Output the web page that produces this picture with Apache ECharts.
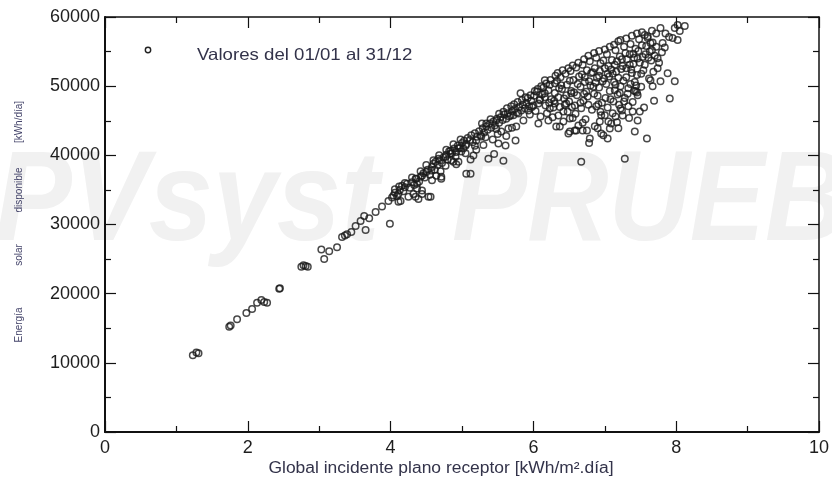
<!DOCTYPE html>
<html>
<head>
<meta charset="utf-8">
<script src="https://cdn.jsdelivr.net/npm/echarts@6/dist/echarts.min.js"></script>
<style>html,body{margin:0;padding:0;background:#fff}#c{width:832px;height:487px}</style>
</head>
<body>
<div id="c"></div>
<script>
// Axis ticks
const xTicks = [0, 2, 4, 6, 8, 10];
const yTicks = [0, 10000, 20000, 30000, 40000, 50000, 60000];

// Daily values [global incident kWh/m2.day, available solar energy kWh/day]
const lowDays = [
  [1.23,11100],[1.28,11500],[1.31,11400],[1.74,15200],[1.76,15400],[1.85,16300],[1.98,17200],
  [2.06,17800],[2.13,18700],[2.19,19100],[2.23,18800],[2.27,18700],[2.44,20700],[2.45,20800],
  [2.75,23900],[2.78,24100],[2.81,24000],[2.84,23900],[3.03,26400],[3.07,25000],[3.14,26150],
  [3.25,26700],[3.32,28200],[3.39,28600],[3.51,29800],[3.65,29200],[3.63,31240],[3.70,30900],
  [3.79,31800],[3.88,32600],[3.97,33400],[3.99,30100],[3.36,28400],[3.45,28900],[3.58,30500]
];
const midDays = [
  [4.04,34200],[4.11,33300],[4.16,35600],[4.25,34000],[4.35,34000],[4.37,35200],[4.44,34400],
  [4.56,34000],[4.35,36600],[4.71,36600],[4.14,33400],[4.11,34400],[4.32,34400],[4.39,33700],
  [4.53,34000],[4.44,34900],[4.37,35900],[4.44,37050],[4.50,37600],[4.57,37800],[4.64,37050],
  [4.71,36900],[4.63,39080],[4.67,39500],[4.77,38500],[4.77,39800],[4.84,40250],[4.88,39080],
  [4.95,39080],[4.99,40540],[5.06,37340],[5.05,41400],[4.95,40970],[4.84,40680],[4.91,39810],
  [5.02,40970],[5.12,37340],[5.16,39960],[5.20,42130],[5.27,42720],[5.37,39520],[5.34,44600],
  [5.48,45040],[5.51,41700],[5.58,39230],[5.61,41410],[5.55,43440],[5.65,43880],[5.75,42130],
  [5.76,44170],[5.68,45770],[5.79,46060],[5.82,48960],[5.86,45040],[5.93,46500],[6.00,47220],
  [6.07,44600],[6.09,47950],[6.16,48960],[6.21,45040],[6.23,46780],[6.30,47510],[6.32,44170],
  [6.35,45770],[6.42,46350],[6.46,47510],[6.49,43150],[6.58,43590],[6.39,50120],[6.53,48960],
  [6.16,50850],[6.30,50410]
];
const bandDays = [
  [4.02,33900],[4.06,34600],[4.09,34100],[4.13,35000],[4.18,34800],[4.20,35400],[4.23,35900],
  [4.27,35300],[4.30,36100],[4.33,35700],[4.36,36600],[4.40,36200],[4.42,36900],[4.46,37400],
  [4.48,36800],[4.52,37900],[4.55,37200],[4.58,38300],[4.60,38800],[4.62,37900],[4.66,38600],
  [4.69,39300],[4.72,38900],[4.74,39700],[4.78,40100],[4.80,39400],[4.82,40600],[4.86,40300],
  [4.89,41000],[4.92,40500],[4.94,41400],[4.97,41100],[5.00,41800],[5.03,42100],[5.06,41600],
  [5.08,42500],[5.11,42200],[5.13,42900],[5.15,41900],[5.18,43200],[5.21,42700],[5.24,43500],
  [5.26,42900],[5.29,43900],[5.31,43300],[5.34,44200],[5.36,43700],[5.39,44600],[5.41,44000],
  [5.44,44900],[5.46,44300],[5.49,45300],[5.52,44700],[5.54,45500],[5.57,45100],[5.59,45900],
  [5.62,45300],[5.64,46100],[5.66,45600],[5.70,46400],[5.72,45800],[5.74,46700],[5.77,46200],
  [5.80,47000],[5.83,46500],[5.85,47300],[5.88,46800],[5.90,47600],[5.94,47100],[5.97,47900],
  [5.20,40800],[5.30,41500],[5.43,42300],[5.50,43100],[5.62,42800],[5.70,44000],[5.45,40200],
  [5.12,39400],[5.05,40300],[4.92,38700],[4.85,39300],[4.70,37700],[4.58,36400],
  [5.18,41400],[5.33,42600],[5.48,43800],[5.28,44600],[5.40,45200],[4.98,42300],[4.88,41600],
  [4.78,40800],[4.68,40000],[4.60,39300],[4.50,38600],[4.42,37700],[4.30,36800],[4.20,36000],
  [4.12,35500],[4.06,35100]
];
const highDays = [
  [5.92,48300],[5.95,45900],[5.98,47000],[6.01,48600],[6.03,46400],[6.05,49200],[6.07,47500],
  [6.10,45600],[6.12,48800],[6.14,49800],[6.17,47200],[6.19,46100],[6.21,49400],[6.23,50200],
  [6.25,48100],[6.27,45500],[6.28,46900],[6.30,49000],[6.33,50800],[6.35,48400],[6.37,47000],
  [6.38,51300],[6.40,49600],[6.42,44900],[6.43,48200],[6.45,51800],[6.47,50200],[6.48,46300],
  [6.50,47800],[6.52,52200],[6.53,49300],[6.55,45400],[6.56,50900],[6.58,47200],[6.60,52700],
  [6.61,48700],[6.63,44300],[6.64,51400],[6.66,49900],[6.67,46800],[6.69,53100],[6.70,47900],
  [6.72,50600],[6.73,45200],[6.75,52300],[6.76,48500],[6.78,41800],[6.79,53600],[6.80,50100],
  [6.82,46600],[6.83,52000],[6.85,48900],[6.86,44200],[6.88,54100],[6.89,51200],[6.91,47400],
  [6.92,49800],[6.94,53300],[6.95,45800],[6.97,50700],[6.98,42900],[7.00,52600],[7.01,48300],
  [7.03,54600],[7.04,46900],[7.06,51400],[7.07,49300],[7.09,44600],[7.10,53800],[7.12,47800],
  [7.13,50600],[7.15,55200],[7.16,52100],[7.18,48800],[7.19,43900],[7.21,54300],[7.22,50000],
  [7.24,46500],[7.25,52900],[7.27,55700],[7.28,48300],[7.30,51300],[7.31,53900],[7.33,49700],
  [7.34,45400],[7.36,56100],[7.37,52400],[7.39,47700],[7.40,54700],[7.42,50600],[7.43,55400],
  [7.45,51600],[7.46,48700],[7.48,56800],[7.49,53400],[7.51,49900],[7.52,55900],[7.54,52300],
  [7.55,46900],[7.57,54600],[7.60,57200],[7.62,51100],[7.63,55000],[7.65,53700],[7.67,56300],
  [7.69,47900],[7.70,54400],[7.72,57600],[7.74,52600],
  [6.62,50300],[6.68,51700],[6.74,49200],[6.81,51900],[6.87,50500],[6.93,52200],[6.99,51100],
  [7.05,52900],[7.11,51800],[7.17,53600],[7.23,52500],[7.29,54800],[7.35,53100],[7.41,54100],
  [7.47,55100],[7.53,54200],[7.58,55800],[6.71,48900],[6.77,47300],[6.84,49900],[6.90,48600],
  [6.96,47600],[7.02,50300],[7.08,48100],[7.14,49400],[7.20,47300],[7.26,50800],[7.32,48900],
  [7.38,51900],[7.44,50100],[6.46,48700],[6.51,50800],[6.57,49100],[6.44,47300],[6.36,49700],
  [6.29,47900],[6.22,47600],[6.16,48400],[6.09,48100]
];
const topDays = [
  [5.52,46000],[5.58,46300],[5.63,46800],[5.69,47100],[5.73,47400],[5.78,47700],[5.84,48000],
  [5.89,48400],[5.96,48700],[6.02,49300],[6.06,49600],[6.11,50000],[6.18,50400],[6.24,50900],
  [6.31,51500],[6.34,51900],[6.41,52300],[6.49,52600],[6.55,53000],[6.63,53400],[6.71,53900],
  [6.77,54400],[6.85,54800],[6.92,55100],[7.00,55300],[7.07,55700],[7.13,56000],[7.19,56500],
  [7.30,56900],[7.38,57300],[7.45,57600],[7.52,57800],[7.66,58000],[7.85,57600],[7.90,57100],
  [6.72,51300],[6.78,50700],[6.86,52600],[6.92,51500],[6.98,53700],[7.04,51800],[7.09,52400],
  [7.14,53100],[7.19,51200],[7.24,53900],[7.30,52600],[7.35,54600],[7.40,53200],[7.46,54000],
  [7.51,51800],[7.56,53100],[7.61,54100],[7.66,55200],[7.68,52100],[7.72,55700],[7.76,53400],
  [7.80,54900],[7.84,55600],[7.15,50200],[7.21,49000],[7.27,47800],[7.33,47100],[7.36,50300],
  [6.88,47100],[6.94,46300],[7.00,45800],[7.05,44900],[7.11,46100],[6.66,47600],[6.59,46000],
  [6.54,47000],[6.69,44700],[6.75,43600],[6.90,43900],[7.17,44800]
];
const edgeDays = [
  [6.67,39080],[7.28,39520],[7.59,42420],[7.42,43440],[7.91,48230],[7.88,51870],[7.98,50700],
  [7.78,50700],[7.64,50850],[7.67,49980],[7.43,49250],[7.45,49100],[7.41,49350],[7.49,46350],
  [7.39,46350],[7.46,45040],[7.25,45770],[7.15,45620],[6.51,43440],[6.60,43590],[6.69,43590],
  [6.79,42420],[6.95,43150],[7.04,42420],[7.07,43880],[6.51,45330],[6.37,44170],[6.93,44890],
  [7.22,46780],[7.78,58400],[7.98,58400],[8.02,58840],[8.12,58700],[8.05,57970],[7.95,56950],
  [8.02,56660],[7.74,54050],[7.81,56230],[7.64,56230],[7.56,57390],[7.60,56950],[7.22,56660]
];
const legendText = 'Valores del 01/01 al 31/12';
const xName = 'Global incidente plano receptor [kWh/m².día]';
const yNameWords = ['Energía', 'solar', 'disponible', '[kWh/día]'];
const watermarkWords = ['PVsyst', 'PRUEBA'];

const allDays = [].concat(lowDays, midDays, bandDays, highDays, topDays, edgeDays);

const FONT = '"Liberation Sans", Arial, sans-serif';
const chart = echarts.init(document.getElementById('c'), null, {renderer: 'canvas'});

function mkX(pos, labels, lw) {
  return {
    type: 'value', position: pos, min: xTicks[0], max: xTicks[xTicks.length - 1],
    interval: xTicks[1] - xTicks[0],
    axisLine: {show: true, onZero: false, lineStyle: {color: '#111', width: lw}},
    axisTick: {show: true, inside: true, length: 11, lineStyle: {color: '#111', width: 1.2}},
    minorTick: {show: true, splitNumber: 2, length: 6, lineStyle: {color: '#111', width: 1.2}},
    splitLine: {show: false},
    axisLabel: {show: labels, color: '#1e1e1e', fontSize: 18, fontFamily: FONT, margin: 7,
      formatter: v => String(v)}
  };
}
function mkY(pos, labels, lw) {
  return {
    type: 'value', position: pos, min: yTicks[0], max: yTicks[yTicks.length - 1],
    interval: yTicks[1] - yTicks[0],
    axisLine: {show: true, onZero: false, lineStyle: {color: '#111', width: lw}},
    axisTick: {show: true, inside: true, length: 11, lineStyle: {color: '#111', width: 1.2}},
    minorTick: {show: true, splitNumber: 2, length: 6, lineStyle: {color: '#111', width: 1.2}},
    splitLine: {show: false},
    axisLabel: {show: labels, color: '#1e1e1e', fontSize: 18, fontFamily: FONT, margin: 5,
      formatter: v => String(v)}
  };
}

const yWordCenters = [325, 255, 190, 122];
const graphics = [
  {type: 'text', z: -10, x: -5, y: 141, scaleX: 0.9, silent: true,
   style: {text: watermarkWords[0], fill: '#f1f1f1', fontSize: 128, fontWeight: 'bold',
     fontStyle: 'italic', fontFamily: FONT, verticalAlign: 'top', align: 'left'}},
  {type: 'text', z: -10, x: 452, y: 141, scaleX: 0.88, silent: true,
   style: {text: watermarkWords[1], fill: '#f1f1f1', fontSize: 128, fontWeight: 'bold',
     fontStyle: 'italic', fontFamily: FONT, verticalAlign: 'top', align: 'left'}},
  {type: 'circle', shape: {cx: 148, cy: 50, r: 2.7},
   style: {fill: 'none', stroke: '#222', lineWidth: 1.4}},
  {type: 'text', x: 197, y: 55, scaleX: 1.13,
   style: {text: legendText, fill: '#33334a', fontSize: 16.5, fontFamily: FONT,
     verticalAlign: 'middle', align: 'left'}},
  {type: 'text', x: 441, y: 469, scaleX: 1.09,
   style: {text: xName, fill: '#33334a', fontSize: 16, fontFamily: FONT,
     verticalAlign: 'middle', align: 'center'}}
];
yNameWords.forEach((w, i) => {
  graphics.push({type: 'text', x: 19, y: yWordCenters[i], rotation: Math.PI / 2,
    style: {text: w, fill: '#44446a', fontSize: 10, fontFamily: FONT,
      align: 'center', verticalAlign: 'middle'}});
});

chart.setOption({
  backgroundColor: '#fff',
  animation: false,
  grid: {left: 105, right: 10, top: 17, bottom: 55, containLabel: false},
  xAxis: [mkX('bottom', true, 2), mkX('top', false, 1.5)],
  yAxis: [mkY('left', true, 2), mkY('right', false, 1.5)],
  graphic: graphics,
  series: [{
    type: 'scatter', xAxisIndex: 0, yAxisIndex: 0,
    data: allDays, symbol: 'circle', symbolSize: 6.5,
    itemStyle: {color: 'rgba(0,0,0,0)', borderColor: '#1a1a1a', borderWidth: 1.5},
    emphasis: {disabled: true}
  }]
});
</script>
</body>
</html>
